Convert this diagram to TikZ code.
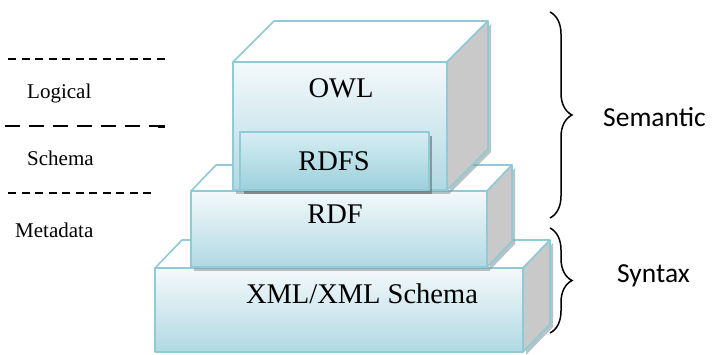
\documentclass[tikz,border=0pt]{standalone}
\usepackage{fontspec}
\setmainfont{Liberation Serif}
\newfontfamily\calfont{Carlito}
\usetikzlibrary{decorations.pathreplacing}
\definecolor{edgec}{HTML}{8FCAD6}
\definecolor{ftop}{HTML}{F4F9FB}
\definecolor{fbot}{HTML}{B0D9E3}
\definecolor{sidec}{HTML}{C9C9C9}
\definecolor{shadowc}{HTML}{8A9A9E}
\definecolor{rdfsA}{HTML}{D6EEF3}
\definecolor{rdfsB}{HTML}{9CD0DC}
\begin{document}
\begin{tikzpicture}[x=1pt,y=-1pt,
  edge/.style={draw=edgec, line width=1.6pt, line join=round},
  frontface/.style={edge, top color=ftop, bottom color=fbot},
  topface/.style={edge, fill=white},
  sideface/.style={edge, fill=sidec},
  dropshadow/.style={fill=shadowc, opacity=0.6},
  big/.style={font=\fontsize{28.5}{30}\selectfont},
  small/.style={font=\fontsize{21}{23}\selectfont},
  sans/.style={font=\calfont\fontsize{27.5}{30}\selectfont},
  dashline/.style={line width=1.3pt, dash pattern=on 8pt off 5.5pt},
  bracestyle/.style={line width=1.5pt, decorate, decoration={brace, amplitude=22pt}}]
\useasboundingbox (0,0) rectangle (713,354);

% ---- XML box ----
\fill[dropshadow] (526,271) -- (553,243) -- (553,327) -- (526,355) -- cycle;
\path[topface] (155,268) -- (182,240) -- (550,240) -- (523,268) -- cycle;
\path[sideface] (523,268) -- (550,240) -- (550,324) -- (523,352) -- cycle;
\path[frontface] (155,268) rectangle (523,352);

% ---- RDF box ----
\fill[dropshadow] (490,194) -- (515,168) -- (515,244) -- (490,270) -- cycle;
\fill[dropshadow] (194,267) rectangle (490,271);
\path[topface] (191,191) -- (216,165) -- (512,165) -- (487,191) -- cycle;
\path[sideface] (487,191) -- (512,165) -- (512,241) -- (487,267) -- cycle;
\path[frontface] (191,191) rectangle (487,267);

% ---- OWL box ----
\fill[dropshadow] (450,65) -- (491,24) -- (491,152) -- (450,193) -- cycle;
\fill[dropshadow] (236,190) rectangle (450,194);
\path[topface] (233,62) -- (274,21) -- (488,21) -- (447,62) -- cycle;
\path[sideface] (447,62) -- (488,21) -- (488,149) -- (447,190) -- cycle;
\path[frontface] (233,62) rectangle (447,190);

% ---- RDFS box ----
\fill[fill=black!60, opacity=0.6] (244,136) rectangle (432,194);
\path[edge, line width=1.2pt, top color=rdfsA, bottom color=rdfsB]
  (240,132) rectangle (429,190);

% ---- labels ----
\node[big, anchor=base] (owl) at (341,97) {OWL};
\node[big, anchor=base] (rdfs) at (334,170) {RDFS};
\node[big, anchor=base] (rdf) at (335,223) {RDF};
\node[big, anchor=base] (xml) at (362,303) {XML/XML Schema};

% ---- left side ----
\draw[dashline] (8,59) -- (167,59);
\draw[line width=1.3pt, dash pattern=on 15pt off 9pt] (5,126) -- (160,126);
\fill (158,124.5) rectangle (165,128);
\draw[dashline] (8,193) -- (155,193);
\node[small, anchor=base west, inner sep=0pt] (logical) at (27,98) {Logical};
\node[small, anchor=base west, inner sep=0pt] (schema) at (27,165) {Schema};
\node[small, anchor=base west, inner sep=0pt] (metadata) at (15,237) {Metadata};

% ---- braces ----
\coordinate (sa) at (550,12);
\coordinate (sb) at (550,218);
\coordinate (ya) at (550,228);
\coordinate (yb) at (550,333);
\draw[bracestyle] (sa) -- (sb);
\draw[bracestyle] (ya) -- (yb);
\node[sans, anchor=west, inner sep=0pt] (semantic) at (603,117) {Semantic};
\node[sans, anchor=west, inner sep=0pt] (syntax) at (617,276) {Syntax};
\end{tikzpicture}
\end{document}
